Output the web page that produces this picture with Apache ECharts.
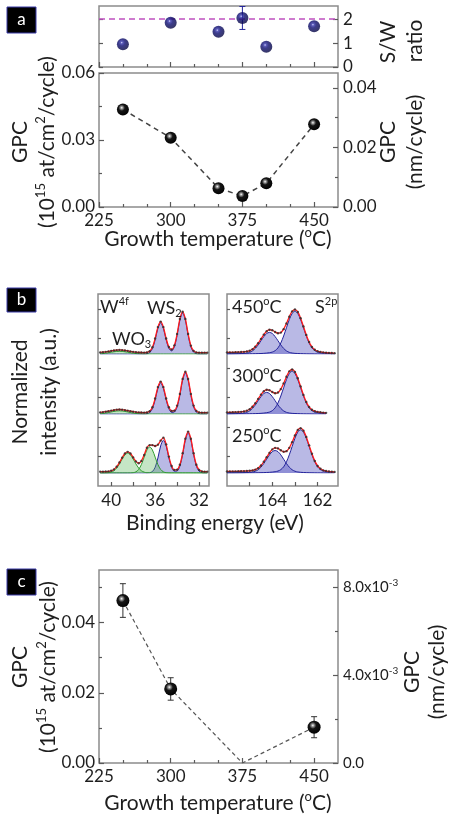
<!DOCTYPE html>
<html>
<head>
<meta charset="utf-8">
<script src="https://cdn.jsdelivr.net/npm/echarts@6.0.0/dist/echarts.min.js"></script>
<style>
html,body{margin:0;padding:0;background:#ffffff;}
#chart{width:451px;height:817px;}
</style>
</head>
<body>
<div id="chart"></div>
<script>
// ===================== DATA =====================
// Panel a (growth temperature series)
const tempLabels = [225, 300, 375, 450];
const tempMinorTicks = [250, 275, 325, 350, 400, 425];
const aTemps = [250, 300, 350, 375, 400, 450];
const swRatio = [0.95, 1.85, 1.47, 2.05, 0.85, 1.70];
const swErr = [0, 0, 0, 0.48, 0, 0];
const swStoich = 2;
const aGpc = [0.0437, 0.0310, 0.0084, 0.0049, 0.0106, 0.0370];

// Panel c
const cTemps = [250, 300, 375, 450];
const cGpc = [0.0463, 0.0211, 0.0, 0.0102];
const cErr = [0.0048, 0.0032, 0, 0.0030];
const cMarker = [true, true, false, true];

// tick label values
const swLabels = [0, 1, 2];
const aGpcLabels = [0, 0.03, 0.06];
const aGpcMinor = [0.015, 0.045];
const aNmLabels = [0, 0.02, 0.04];
const aNmMinor = [0.01, 0.03];
const cGpcLabels = [0, 0.02, 0.04];
const cGpcMinor = [0.01, 0.03, 0.05];
const cNmLabels = [0, 0.004, 0.008];
const cNmMinor = [0.002, 0.006];
const w4fLabels = [40, 36, 32];
const w4fTicks = [40, 38, 36, 34, 32];
const s2pLabels = [164, 162];
const s2pTicks = [165, 164, 163, 162];
const intensityTicks = [1, 2, 3, 4, 5, 6];

// Panel b: W 4f spectra (binding energy, eV)
const w4fEnergy = [41.0, 40.75, 40.5, 40.25, 40.0, 39.75, 39.5, 39.25, 39.0, 38.75,
  38.5, 38.25, 38.0, 37.75, 37.5, 37.25, 37.0, 36.75, 36.5, 36.25,
  36.0, 35.75, 35.5, 35.25, 35.0, 34.75, 34.5, 34.25, 34.0, 33.75,
  33.5, 33.25, 33.0, 32.75, 32.5, 32.25, 32.0, 31.75, 31.5, 31.25];
// 450 C
const w450WO3 = [0.005,0.010,0.018,0.027,0.039,0.049,0.057,0.060,0.057,0.049,0.039,0.027,0.018,0.010,0.005,0.003,0.001,0,0,0,0,0,0,0,0,0,0,0,0,0,0,0,0,0,0,0,0,0,0,0];
const w450WS2 = [0,0,0,0,0,0,0,0,0,0,0,0,0,0,0,0,0,0.005,0.030,0.119,0.316,0.568,0.690,0.568,0.316,0.126,0.070,0.162,0.417,0.749,0.910,0.749,0.417,0.157,0.040,0.007,0,0,0,0];
const w450Env = [0.035,0.040,0.048,0.057,0.069,0.079,0.087,0.090,0.087,0.079,0.069,0.057,0.048,0.040,0.035,0.033,0.031,0.035,0.060,0.149,0.346,0.598,0.720,0.598,0.346,0.156,0.100,0.192,0.447,0.779,0.940,0.779,0.447,0.187,0.070,0.037,0.030,0.030,0.030,0.030];
// 300 C
const w300WO3 = [0.006,0.012,0.021,0.032,0.045,0.057,0.067,0.070,0.067,0.057,0.045,0.032,0.021,0.012,0.006,0.003,0.001,0,0,0,0,0,0,0,0,0,0,0,0,0,0,0,0,0,0,0,0,0,0,0];
const w300WS2 = [0,0,0,0,0,0,0,0,0,0,0,0,0,0,0,0,0,0.005,0.030,0.119,0.316,0.568,0.690,0.568,0.316,0.119,0.037,0.045,0.157,0.417,0.749,0.910,0.749,0.417,0.157,0.040,0.007,0,0,0];
const w300Env = [0.036,0.042,0.051,0.062,0.075,0.087,0.097,0.100,0.097,0.087,0.075,0.062,0.051,0.042,0.036,0.033,0.031,0.035,0.060,0.149,0.346,0.598,0.720,0.598,0.346,0.149,0.067,0.075,0.187,0.447,0.779,0.940,0.779,0.447,0.187,0.070,0.037,0.030,0.030,0.030];
// 250 C
const w250WO3a = [0,0,0.002,0.006,0.019,0.050,0.110,0.202,0.311,0.403,0.440,0.403,0.311,0.202,0.110,0.050,0.019,0.006,0.002,0,0,0,0,0,0,0,0,0,0,0,0,0,0,0,0,0,0,0,0,0];
const w250WO3b = [0,0,0,0,0,0,0,0,0,0,0,0.001,0.006,0.026,0.078,0.189,0.352,0.512,0.580,0.512,0.352,0.189,0.078,0.026,0.006,0.001,0,0,0,0,0,0,0,0,0,0,0,0,0,0];
const w250WS2 = [0,0,0,0,0,0,0,0,0,0,0,0,0,0,0,0,0,0,0.006,0.032,0.126,0.334,0.601,0.730,0.601,0.334,0.126,0.039,0.045,0.153,0.408,0.732,0.890,0.732,0.408,0.153,0.039,0.007,0,0];
const w250Env = [0.030,0.030,0.032,0.036,0.049,0.080,0.140,0.232,0.341,0.433,0.470,0.434,0.347,0.258,0.218,0.269,0.401,0.560,0.620,0.620,0.600,0.630,0.720,0.786,0.637,0.365,0.156,0.069,0.075,0.183,0.438,0.762,0.920,0.762,0.438,0.183,0.069,0.037,0.030,0.030];

// Panel b: S 2p spectra
const s2pEnergy = [166.0, 165.875, 165.75, 165.625, 165.5, 165.375, 165.25, 165.125, 165.0, 164.875,
  164.75, 164.625, 164.5, 164.375, 164.25, 164.125, 164.0, 163.875, 163.75, 163.625,
  163.5, 163.375, 163.25, 163.125, 163.0, 162.875, 162.75, 162.625, 162.5, 162.375,
  162.25, 162.125, 162.0, 161.875, 161.75, 161.625, 161.5, 161.375, 161.25];
const s450A = [0.003,0.003,0.004,0.006,0.008,0.011,0.014,0.022,0.037,0.069,0.124,0.202,0.295,0.386,0.455,0.480,0.455,0.386,0.295,0.202,0.124,0.069,0.037,0.022,0.014,0.011,0.008,0.006,0.004,0.003,0.003,0.002,0.002,0.002,0.002,0.002,0.002,0.002,0.002];
const s450B = [0.003,0.003,0.003,0.003,0.003,0.003,0.004,0.004,0.005,0.006,0.007,0.009,0.011,0.015,0.021,0.029,0.043,0.074,0.136,0.245,0.400,0.583,0.765,0.900,0.950,0.900,0.765,0.583,0.400,0.245,0.136,0.074,0.043,0.029,0.021,0.015,0.011,0.009,0.007];
const s450Env = [0.036,0.036,0.037,0.039,0.041,0.044,0.048,0.056,0.072,0.105,0.161,0.241,0.336,0.431,0.506,0.539,0.528,0.490,0.461,0.476,0.552,0.679,0.828,0.947,0.988,0.934,0.795,0.610,0.424,0.267,0.157,0.093,0.061,0.046,0.037,0.030,0.025,0.022,0.019];
const s300A = [0.003,0.004,0.006,0.008,0.011,0.014,0.022,0.037,0.069,0.124,0.202,0.295,0.386,0.455,0.480,0.455,0.386,0.295,0.202,0.124,0.069,0.037,0.022,0.014,0.011,0.008,0.006,0.004,0.003,0.003,0.002,0.002,0.002,0.002,0.002,0.002];
const s300B = [0.003,0.003,0.003,0.003,0.003,0.004,0.004,0.005,0.006,0.007,0.009,0.011,0.015,0.021,0.029,0.043,0.074,0.136,0.245,0.400,0.583,0.765,0.900,0.950,0.900,0.765,0.583,0.400,0.245,0.136,0.074,0.043,0.029,0.021,0.015,0.011];
const s300Env = [0.036,0.037,0.039,0.041,0.044,0.048,0.056,0.072,0.105,0.161,0.241,0.336,0.431,0.506,0.539,0.528,0.490,0.461,0.477,0.553,0.680,0.829,0.948,0.989,0.935,0.796,0.611,0.425,0.268,0.158,0.094,0.062,0.047,0.038,0.031,0.026];
const s250A = [0.002,0.003,0.003,0.004,0.005,0.006,0.008,0.011,0.015,0.023,0.039,0.072,0.129,0.211,0.307,0.403,0.474,0.500,0.474,0.403,0.307,0.211,0.129,0.072,0.039,0.023,0.015,0.011,0.008,0.006,0.005,0.004,0.003,0.003,0.002,0.002,0.002,0.002,0.002];
const s250B = [0.003,0.003,0.003,0.003,0.003,0.003,0.003,0.003,0.004,0.004,0.005,0.006,0.007,0.009,0.012,0.015,0.021,0.029,0.043,0.075,0.137,0.248,0.404,0.589,0.773,0.909,0.960,0.909,0.773,0.589,0.404,0.248,0.137,0.075,0.043,0.029,0.021,0.015,0.012];
const s250Env = [0.035,0.036,0.036,0.037,0.038,0.039,0.041,0.044,0.049,0.057,0.074,0.108,0.166,0.250,0.349,0.448,0.525,0.559,0.547,0.507,0.472,0.486,0.559,0.686,0.836,0.955,0.997,0.941,0.801,0.614,0.427,0.269,0.156,0.093,0.059,0.044,0.035,0.028,0.024];

// ===================== STYLE / LAYOUT =====================
const FONT = 'Lato, "Open Sans", "Noto Sans", sans-serif';
const TXT = '#1e1e1e';
const BORDER = '#8c8c8c';
const TICK = '#5a5a5a';

const grids = [], xA = [], yA = [], series = [];
function grid(left, top, width, height, framed) {
  grids.push({left, top, width, height, containLabel: false, show: !!framed,
    borderColor: BORDER, borderWidth: 1.5, backgroundColor: 'rgba(0,0,0,0)'});
  return grids.length - 1;
}
function axis(gi, pos, min, max, o) {
  o = o || {};
  return {
    type: 'value', gridIndex: gi, position: pos, min: min, max: max, inverse: !!o.inverse,
    show: o.hidden ? false : true,
    axisLine: {show: false}, splitLine: {show: false}, splitArea: {show: false},
    axisPointer: {show: false},
    axisTick: o.ticks ? {show: true, inside: true, length: o.tickLen || 5, customValues: o.ticks,
      lineStyle: {color: TICK, width: 1.2}} : {show: false},
    axisLabel: o.labels ? {show: true, customValues: o.labels, formatter: o.fmt, color: TXT,
      fontFamily: FONT, fontSize: o.fs || 17, margin: (o.margin != null ? o.margin : 6), rich: o.rich} : {show: false}
  };
}
function X(a) { xA.push(a); return xA.length - 1; }
function Y(a) { yA.push(a); return yA.length - 1; }
const zip = (xs, ys) => ys.map((v, i) => [xs[i], v]);
const f2 = v => v.toFixed(2);

function sphere(hi, mid, body, dark) {
  return {type: 'radial', x: 0.4, y: 0.36, r: 0.7,
    colorStops: [{offset: 0, color: hi}, {offset: 0.14, color: mid}, {offset: 0.38, color: body}, {offset: 1, color: dark}]};
}
const blackBall = sphere('#ffffff', '#9a9a9a', '#151515', '#000000');
const blueBall = sphere('#d0d0ff', '#3434aa', '#0c0c70', '#04043a');

function errBars(xi, yi, xs, ys, es, color, cap) {
  return {
    type: 'custom', xAxisIndex: xi, yAxisIndex: yi, z: 3, silent: true, clip: false,
    data: xs.map((x, i) => [x, ys[i], es[i]]).filter(d => d[2] > 0),
    renderItem: function (params, api) {
      const x = api.value(0), y = api.value(1), e = api.value(2);
      const t = api.coord([x, y + e]), b = api.coord([x, y - e]);
      const st = {stroke: color, lineWidth: 1};
      return {type: 'group', children: [
        {type: 'line', shape: {x1: t[0], y1: t[1], x2: b[0], y2: b[1]}, style: st},
        {type: 'line', shape: {x1: t[0] - cap, y1: t[1], x2: t[0] + cap, y2: t[1]}, style: st},
        {type: 'line', shape: {x1: b[0] - cap, y1: b[1], x2: b[0] + cap, y2: b[1]}, style: st}
      ]};
    }
  };
}

// ---------- Panel a, top (S/W ratio) ----------
const gA1 = grid(99, 6, 239, 61, true);
const xA1 = X(axis(gA1, 'bottom', 225, 475, {ticks: tempLabels, tickLen: 5}));
X(axis(gA1, 'bottom', 225, 475, {ticks: tempMinorTicks, tickLen: 3}));
const yA1 = Y(axis(gA1, 'right', 0, 2.55, {ticks: swLabels, labels: swLabels, fmt: v => String(v), margin: 5}));
Y(axis(gA1, 'left', 0, 2.55, {ticks: swLabels, tickLen: 4}));
series.push(errBars(xA1, yA1, aTemps, swRatio, swErr, '#25259a', 3));
series.push({
  type: 'scatter', xAxisIndex: xA1, yAxisIndex: yA1, z: 5, silent: true,
  data: zip(aTemps, swRatio), symbol: 'circle', symbolSize: 12,
  itemStyle: {color: blueBall},
  markLine: {silent: true, symbol: 'none', label: {show: false}, animation: false,
    lineStyle: {color: '#bf50c0', type: [6, 4], width: 1.6},
    data: [{yAxis: swStoich}]}
});

// ---------- Panel a, bottom (GPC) ----------
const gA2 = grid(99, 73, 239, 134, true);
const xA2 = X(axis(gA2, 'bottom', 225, 475, {ticks: tempLabels, labels: tempLabels, fmt: v => String(v), tickLen: 5, margin: 5}));
X(axis(gA2, 'bottom', 225, 475, {ticks: tempMinorTicks, tickLen: 3}));
const yA2 = Y(axis(gA2, 'left', 0, 0.06, {ticks: aGpcLabels, labels: aGpcLabels, fmt: f2, tickLen: 5, margin: 4}));
Y(axis(gA2, 'left', 0, 0.06, {ticks: aGpcMinor, tickLen: 3}));
Y(axis(gA2, 'right', 0, 0.045, {ticks: aNmLabels, labels: aNmLabels, fmt: f2, tickLen: 5, margin: 5}));
Y(axis(gA2, 'right', 0, 0.045, {ticks: aNmMinor, tickLen: 3}));
series.push({
  type: 'line', xAxisIndex: xA2, yAxisIndex: yA2, z: 5, silent: true,
  data: zip(aTemps, aGpc), symbol: 'circle', symbolSize: 12, showSymbol: true,
  lineStyle: {color: '#444', width: 1.5, type: [5, 4]},
  itemStyle: {color: blackBall}
});

// ---------- Panel c ----------
const gC = grid(99, 570, 239, 193, true);
const xC = X(axis(gC, 'bottom', 225, 475, {ticks: tempLabels, labels: tempLabels, fmt: v => String(v), tickLen: 5, margin: 5}));
X(axis(gC, 'bottom', 225, 475, {ticks: tempMinorTicks, tickLen: 3}));
const yC = Y(axis(gC, 'left', 0, 0.055, {ticks: cGpcLabels, labels: cGpcLabels, fmt: f2, tickLen: 5, margin: 4}));
Y(axis(gC, 'left', 0, 0.055, {ticks: cGpcMinor, tickLen: 3}));
Y(axis(gC, 'right', 0, 0.00877, {ticks: cNmLabels, labels: cNmLabels, tickLen: 5, margin: 5, fs: 15,
  fmt: v => v === 0 ? '{m|0.0}' : '{m|' + (v * 1000).toFixed(1) + 'x10}{s|-3}',
  rich: {m: {fontSize: 15, fontFamily: FONT, color: TXT, lineHeight: 18},
         s: {fontSize: 10, fontFamily: FONT, color: TXT, lineHeight: 10, verticalAlign: 'top'}}}));
Y(axis(gC, 'right', 0, 0.00877, {ticks: cNmMinor, tickLen: 3}));
series.push(errBars(xC, yC, cTemps, cGpc, cErr, '#333', 3));
series.push({
  type: 'line', xAxisIndex: xC, yAxisIndex: yC, z: 5, silent: true,
  data: zip(cTemps, cGpc), symbol: 'circle',
  symbolSize: (v, p) => cMarker[p.dataIndex] ? 13 : 0, showSymbol: true,
  lineStyle: {color: '#555', width: 1.2, type: [4, 3]},
  itemStyle: {color: blackBall}
});

// ---------- Panel b frames ----------
const W4F_RANGE = [31.1, 41.2], S2P_RANGE = [161.1, 166.0];
const gBL = grid(98, 294, 111, 192, true);
X(axis(gBL, 'bottom', W4F_RANGE[0], W4F_RANGE[1], {inverse: true, ticks: w4fTicks, labels: w4fLabels, fmt: v => String(v), tickLen: 4, margin: 6}));
Y(axis(gBL, 'left', 0, 6.5, {ticks: intensityTicks, tickLen: 3}));
const gBR = grid(227, 294, 111, 192, true);
X(axis(gBR, 'bottom', S2P_RANGE[0], S2P_RANGE[1], {inverse: true, ticks: s2pTicks, labels: s2pLabels, fmt: v => String(v), tickLen: 4, margin: 6}));
Y(axis(gBR, 'left', 0, 6.5, {ticks: intensityTicks, tickLen: 3}));

const BLUE_FILL = 'rgba(88,88,192,0.6)', BLUE_LINE = '#23239a';
const GREEN_FILL = 'rgba(90,185,90,0.5)', GREEN_LINE = '#2f9b2f';
function spectrum(left, top, range, energy, comps, env) {
  const gi = grid(left, top, 111, 45, false);
  const xi = X(axis(gi, 'bottom', range[0], range[1], {inverse: true, hidden: true}));
  const yi = Y(axis(gi, 'left', 0, 1, {hidden: true}));
  comps.forEach(c => series.push({
    type: 'line', xAxisIndex: xi, yAxisIndex: yi, data: zip(energy, c.v), smooth: 0.3,
    symbol: 'none', showSymbol: false, silent: true, z: c.z || 2,
    lineStyle: {color: c.line, width: 1}, areaStyle: {color: c.fill, origin: 'start'}
  }));
  series.push({type: 'line', xAxisIndex: xi, yAxisIndex: yi, data: zip(energy, env), smooth: 0.3,
    symbol: 'none', showSymbol: false, silent: true, z: 4, lineStyle: {color: '#ff1a1a', width: 1.3}});
  series.push({type: 'scatter', xAxisIndex: xi, yAxisIndex: yi, data: zip(energy, env), silent: true, z: 5,
    symbol: 'circle', symbolSize: 2.4, itemStyle: {color: '#2a2a2a'}});
}
const blue = v => ({v, fill: BLUE_FILL, line: BLUE_LINE, z: 2});
const green = v => ({v, fill: GREEN_FILL, line: GREEN_LINE, z: 3});
spectrum(98, 309, W4F_RANGE, w4fEnergy, [blue(w450WS2), green(w450WO3)], w450Env);
spectrum(98, 369, W4F_RANGE, w4fEnergy, [blue(w300WS2), green(w300WO3)], w300Env);
spectrum(98, 428, W4F_RANGE, w4fEnergy, [blue(w250WS2), green(w250WO3a), green(w250WO3b)], w250Env);
spectrum(227, 309, S2P_RANGE, s2pEnergy, [blue(s450A), blue(s450B)], s450Env);
spectrum(227, 369, S2P_RANGE, s2pEnergy, [blue(s300A), blue(s300B)], s300Env);
spectrum(227, 428, S2P_RANGE, s2pEnergy, [blue(s250A), blue(s250B)], s250Env);

// ---------- texts ----------
function rich(fs, c) {
  const s = Math.round(fs * 0.62);
  return {
    n: {fontSize: fs, lineHeight: fs + 4, fill: c, fontFamily: FONT},
    sup: {fontSize: s, lineHeight: s + 1, verticalAlign: 'top', fill: c, fontFamily: FONT},
    sub: {fontSize: s, lineHeight: s + 1, verticalAlign: 'bottom', fill: c, fontFamily: FONT}
  };
}
function T(x, y, text, o) {
  o = o || {};
  const fs = o.fs || 21, c = o.color || TXT;
  return {type: 'text', x: x, y: y, rotation: o.rot ? Math.PI / 2 : 0, z: 100, silent: true,
    style: {text: text, fill: c, fontSize: fs, fontFamily: FONT, align: o.align || 'center',
      verticalAlign: 'middle', rich: rich(fs, c)}};
}
function tag(x, y, w, h, letter) {
  return {type: 'group', z: 100, children: [
    {type: 'rect', shape: {x: x, y: y, width: w, height: h}, style: {fill: '#000', stroke: '#3b3ba8', lineWidth: 1}},
    {type: 'text', x: x + w / 2, y: y + h / 2, style: {text: letter, fill: '#fff', fontSize: 17, fontFamily: FONT, align: 'center', verticalAlign: 'middle'}}
  ]};
}
const tempTitle = '{n|Growth temperature (}{sup|o}{n|C)}';
const gpcUnit = '{n|(10}{sup|15}{n| at/cm}{sup|2}{n|/cycle)}';
const graphics = [
  tag(7, 7, 29, 26, 'a'), tag(7, 288, 29, 24, 'b'), tag(7, 569, 29, 26, 'c'),
  // panel a
  T(388, 42, '{n|S/W}', {rot: 1}), T(415, 41, '{n|ratio}', {rot: 1}),
  T(20, 142, '{n|GPC}', {rot: 1}), T(47, 142, gpcUnit, {rot: 1}),
  T(388, 142, '{n|GPC}', {rot: 1}), T(415, 142, '{n|(nm/cycle)}', {rot: 1}),
  T(218, 239, tempTitle),
  // panel b
  T(20, 392, '{n|Normalized}', {rot: 1}), T(49, 392, '{n|intensity (a.u.)}', {rot: 1}),
  T(215, 523, '{n|Binding energy (eV)}'),
  T(100, 307, '{n|W}{sup|4f}', {fs: 18, align: 'left'}),
  T(147, 308, '{n|WS}{sub|2}', {fs: 18, align: 'left'}),
  T(112, 339, '{n|WO}{sub|3}', {fs: 18, align: 'left'}),
  T(232, 307, '{n|450}{sup|o}{n|C}', {fs: 18, align: 'left'}),
  T(232, 376, '{n|300}{sup|o}{n|C}', {fs: 18, align: 'left'}),
  T(232, 436, '{n|250}{sup|o}{n|C}', {fs: 18, align: 'left'}),
  T(315, 307, '{n|S}{sup|2p}', {fs: 18, align: 'left'}),
  // panel c
  T(20, 667, '{n|GPC}', {rot: 1}), T(48, 667, gpcUnit, {rot: 1}),
  T(412, 672, '{n|GPC}', {rot: 1}), T(437, 672, '{n|(nm/cycle)}', {rot: 1}),
  T(218, 803, tempTitle)
];

const chart = echarts.init(document.getElementById('chart'), null, {renderer: 'canvas'});
chart.setOption({
  animation: false,
  backgroundColor: '#ffffff',
  grid: grids, xAxis: xA, yAxis: yA, series: series, graphic: graphics
});
</script>
</body>
</html>
